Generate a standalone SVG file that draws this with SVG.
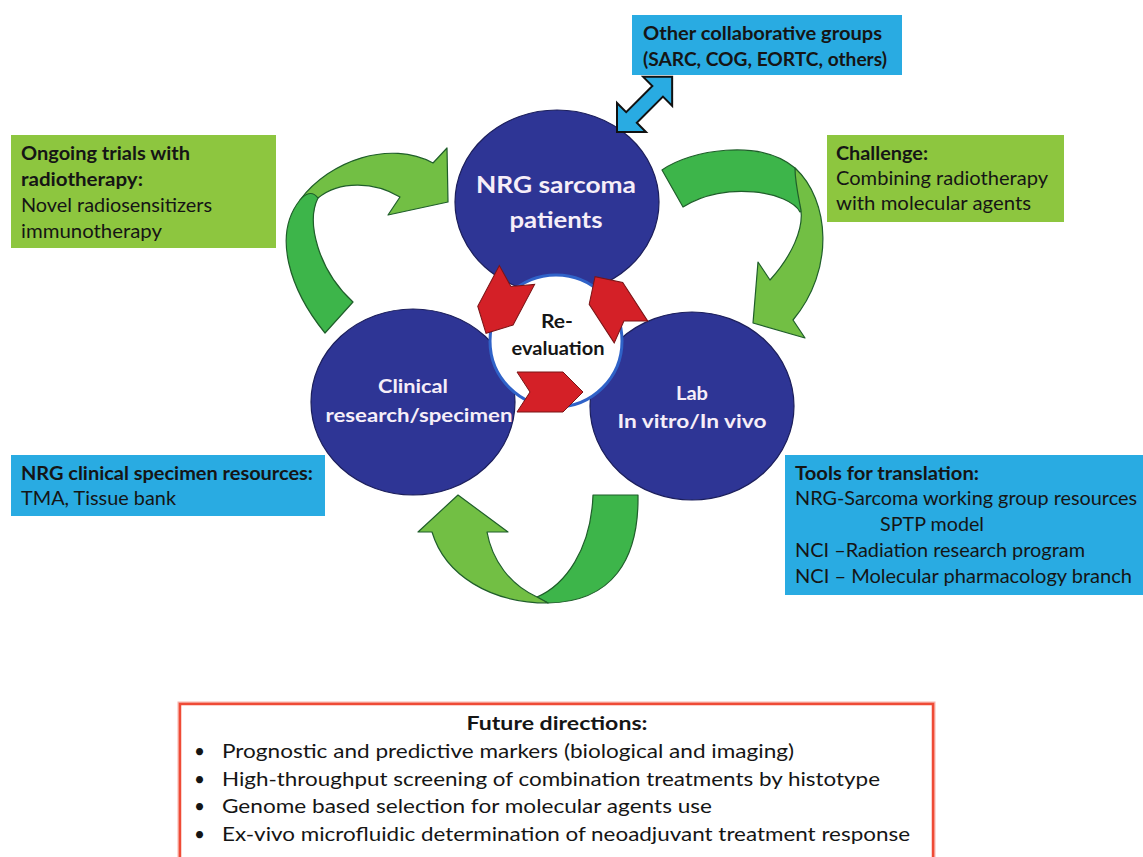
<svg xmlns="http://www.w3.org/2000/svg" width="1143" height="857" viewBox="0 0 1143 857">
<defs>
<style>
.t{font-family:Lato,"Open Sans","Liberation Sans",sans-serif;fill:#151515;font-size:19px}
.b{font-weight:bold}
.w{font-family:Lato,"Open Sans","Liberation Sans",sans-serif;fill:#f6eef8;font-weight:bold;text-anchor:middle}
.blue{fill:#29abe2}
.green{fill:#8dc63f}
.circ{fill:#2e3595;stroke:#1c1f5c;stroke-width:1.2}
.gd{fill:#3db54a;stroke:#1f5e2a;stroke-width:1.2;stroke-linejoin:round}
.gl{fill:#72bf44;stroke:#1f5e2a;stroke-width:1.2;stroke-linejoin:round}
.red{fill:#d42027;stroke:#7a1416;stroke-width:1}
</style>
<polygon id="chev" points="0,-20 46,-20 66,0 46,20 0,20 13,0"/>
</defs>
<rect width="1143" height="857" fill="#ffffff"/>

<g id="connectors">
  <!-- left green arrow: Clinical -> Patients -->
  <path class="gl" d="M300,200 C330,160 390,140 433,163 L447,148 L448,202 L388,215 L400,197 C375,182 340,180 318,198 Z"/>
  <path class="gd" d="M325,333 C290,290 272,235 300,200 C305,194 312,190 318,198 C306,222 318,270 353,302 Z"/>
  <!-- right green arrow: Patients -> Lab -->
  <path class="gd" d="M662,170 C690,150 760,138 795,168 C805,178 812,192 815,205 L800,212 C790,192 725,180 683,207 Z"/>
  <path class="gl" d="M795,168 C830,200 835,270 793,320 L805,338 L753,323 L758,262 L770,280 C790,258 806,228 800,205 C798,195 795,180 795,168 Z"/>
  <!-- bottom green arrow: Lab -> Clinical -->
  <path class="gd" d="M593,495 L638,495 C639,560 612,602 548,603 L537,597 C565,585 591,550 593,495 Z"/>
  <path class="gl" d="M418,532 L458,495 L508,532 L487,532 C492,560 510,585 537,597 L548,603 C490,603 445,575 432,532 Z"/>
</g>

<g id="node-patients">
  <ellipse class="circ" cx="557" cy="202" rx="102" ry="92"/>
</g>
<g id="node-clinical">
  <ellipse class="circ" cx="413" cy="402" rx="102" ry="93"/>
</g>
<g id="node-lab">
  <ellipse class="circ" cx="692" cy="406" rx="102" ry="94"/>
</g>
<g id="node-reevaluation">
  <circle cx="556" cy="341" r="66" fill="#ffffff" stroke="#2f62c8" stroke-width="3"/>
</g>

<g id="connectors-inner">
  <use href="#chev" class="red" transform="translate(517,392)"/>
  <use href="#chev" class="red" transform="translate(517,275) rotate(118)"/>
  <use href="#chev" class="red" transform="translate(631,332) rotate(-123)"/>
  <polygon fill="#29abe2" stroke="#111" stroke-width="2" stroke-linejoin="miter" transform="translate(617,132) rotate(-45)" points="0,0 20.5,-20.5 20.5,-7.5 57.5,-7.5 57.5,-20.5 78,0 57.5,20.5 57.5,7.5 20.5,7.5 20.5,20.5"/>
</g>

<g id="labels-circles">
  <text class="w" x="556" y="193" font-size="23" textLength="160" lengthAdjust="spacingAndGlyphs">NRG sarcoma</text>
  <text class="w" x="556" y="228" font-size="23" textLength="93" lengthAdjust="spacingAndGlyphs">patients</text>
  <text class="w" x="413" y="393" font-size="19" textLength="70" lengthAdjust="spacingAndGlyphs">Clinical</text>
  <text class="w" x="419" y="422" font-size="19" textLength="187" lengthAdjust="spacingAndGlyphs">research/specimen</text>
  <text class="w" x="692" y="400" font-size="19" textLength="32" lengthAdjust="spacingAndGlyphs">Lab</text>
  <text class="w" x="692" y="428" font-size="19" textLength="149" lengthAdjust="spacingAndGlyphs">In vitro/In vivo</text>
  <text class="t b" x="557" y="328" font-size="18" text-anchor="middle" textLength="32" lengthAdjust="spacingAndGlyphs">Re-</text>
  <text class="t b" x="558" y="355" font-size="18" text-anchor="middle" textLength="93" lengthAdjust="spacingAndGlyphs">evaluation</text>
</g>

<g id="box-collab">
  <rect class="blue" x="632" y="15" width="270" height="60"/>
  <text class="t b" x="643" y="40" textLength="239" lengthAdjust="spacingAndGlyphs">Other collaborative groups</text>
  <text class="t b" x="643" y="66" textLength="244" lengthAdjust="spacingAndGlyphs">(SARC, COG, EORTC, others)</text>
</g>

<g id="box-ongoing">
  <rect class="green" x="11" y="135" width="265" height="113"/>
  <text class="t b" x="21" y="160" textLength="169" lengthAdjust="spacingAndGlyphs">Ongoing trials with</text>
  <text class="t b" x="21" y="186" textLength="122" lengthAdjust="spacingAndGlyphs">radiotherapy:</text>
  <text class="t" x="21" y="212" textLength="191" lengthAdjust="spacingAndGlyphs">Novel radiosensitizers</text>
  <text class="t" x="21" y="238" textLength="141" lengthAdjust="spacingAndGlyphs">immunotherapy</text>
</g>

<g id="box-challenge">
  <rect class="green" x="827" y="135" width="237" height="87"/>
  <text class="t b" x="836" y="160" textLength="92" lengthAdjust="spacingAndGlyphs">Challenge:</text>
  <text class="t" x="836" y="185" textLength="212" lengthAdjust="spacingAndGlyphs">Combining radiotherapy</text>
  <text class="t" x="836" y="210" textLength="195" lengthAdjust="spacingAndGlyphs">with molecular agents</text>
</g>

<g id="box-specimen">
  <rect class="blue" x="11" y="455" width="314" height="61"/>
  <text class="t b" x="21" y="480" textLength="292" lengthAdjust="spacingAndGlyphs">NRG clinical specimen resources:</text>
  <text class="t" x="21" y="505" textLength="155" lengthAdjust="spacingAndGlyphs">TMA, Tissue bank</text>
</g>

<g id="box-tools">
  <rect class="blue" x="785" y="455" width="358" height="140"/>
  <text class="t b" x="795" y="480" textLength="184" lengthAdjust="spacingAndGlyphs">Tools for translation:</text>
  <text class="t" x="795" y="505" textLength="342" lengthAdjust="spacingAndGlyphs">NRG-Sarcoma working group resources</text>
  <text class="t" x="880" y="531" textLength="104" lengthAdjust="spacingAndGlyphs">SPTP model</text>
  <text class="t" x="795" y="557" textLength="290" lengthAdjust="spacingAndGlyphs">NCI –Radiation research program</text>
  <text class="t" x="795" y="583" textLength="337" lengthAdjust="spacingAndGlyphs">NCI – Molecular pharmacology branch</text>
</g>

<g id="box-future">
  <rect x="180" y="704" width="753" height="160" fill="#ffffff" stroke="#f26a5a" stroke-width="5" opacity="0.5"/>
  <rect x="180" y="704" width="753" height="160" fill="#ffffff" stroke="#ef4b36" stroke-width="2.5"/>
  <text class="t b" x="557" y="730" font-size="20" text-anchor="middle" textLength="181" lengthAdjust="spacingAndGlyphs">Future directions:</text>
  <text class="t" x="194" y="758" font-size="20">•</text>
  <text class="t" x="222" y="758" font-size="20" textLength="572" lengthAdjust="spacingAndGlyphs">Prognostic and predictive markers (biological and imaging)</text>
  <text class="t" x="194" y="786" font-size="20">•</text>
  <text class="t" x="222" y="786" font-size="20" textLength="658" lengthAdjust="spacingAndGlyphs">High-throughput screening of combination treatments by histotype</text>
  <text class="t" x="194" y="813" font-size="20">•</text>
  <text class="t" x="222" y="813" font-size="20" textLength="490" lengthAdjust="spacingAndGlyphs">Genome based selection for molecular agents use</text>
  <text class="t" x="194" y="841" font-size="20">•</text>
  <text class="t" x="222" y="841" font-size="20" textLength="688" lengthAdjust="spacingAndGlyphs">Ex-vivo microfluidic determination of neoadjuvant treatment response</text>
</g>
</svg>
